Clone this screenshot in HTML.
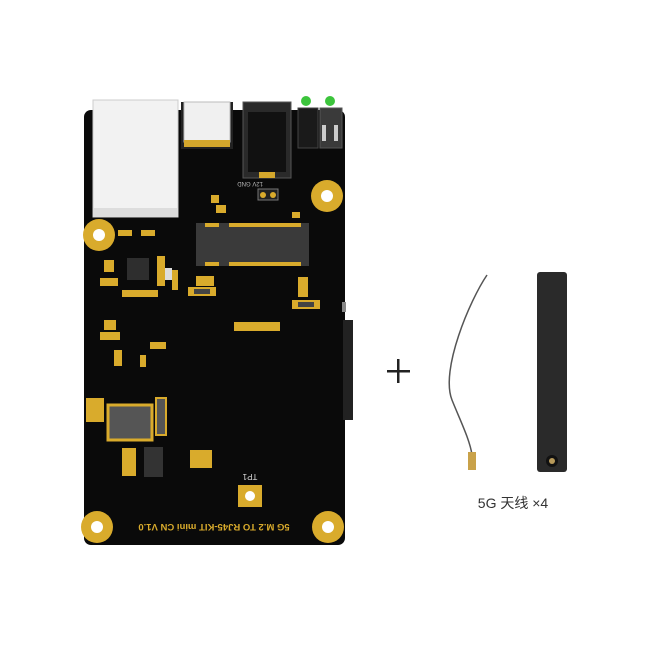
<!DOCTYPE html>
<html><head><meta charset="utf-8"><style>
html,body{margin:0;padding:0;background:#fff;}
svg{display:block}
</style></head><body>
<svg width="650" height="650" viewBox="0 0 650 650" xmlns="http://www.w3.org/2000/svg">
<rect width="650" height="650" fill="#fff"/>
<!-- board -->
<rect x="84" y="110" width="261" height="435" rx="7" fill="#0a0a0a"/>
<!-- side parts -->
<rect x="343" y="320" width="10" height="100" fill="#222"/>
<rect x="342" y="302" width="4" height="10" fill="#888"/>
<!-- ethernet -->
<rect x="93" y="100" width="85" height="117" fill="#f2f2f2" stroke="#ccc"/>
<rect x="93" y="208" width="85" height="9" fill="#ddd"/>
<!-- usb-c -->
<rect x="181" y="102" width="52" height="47" fill="#222"/>
<rect x="184" y="102" width="46" height="40" fill="#f0f0f0" stroke="#bbb"/>
<rect x="184" y="140" width="46" height="7" fill="#d4a72c"/>
<!-- dc jack -->
<rect x="243" y="102" width="48" height="76" fill="#2a2a2a" stroke="#555"/>
<rect x="248" y="112" width="38" height="60" fill="#111"/>
<rect x="259" y="172" width="16" height="6" fill="#d4a72c"/>
<!-- leds -->
<rect x="298" y="108" width="20" height="40" fill="#1a1a1a" stroke="#444"/>
<rect x="320" y="108" width="22" height="40" fill="#3a3a3a" stroke="#555"/>
<circle cx="306" cy="101" r="5" fill="#3cc43c"/>
<circle cx="330" cy="101" r="5" fill="#3cc43c"/>
<rect x="322" y="125" width="4" height="16" fill="#ccc"/><rect x="334" y="125" width="4" height="16" fill="#ccc"/>
<!-- holes -->
<g fill="#d9ab2c"><circle cx="99" cy="235" r="16"/><circle cx="327" cy="196" r="16"/><circle cx="97" cy="527" r="16"/><circle cx="328" cy="527" r="16"/></g>
<g fill="#fff"><circle cx="99" cy="235" r="6"/><circle cx="327" cy="196" r="6"/><circle cx="97" cy="527" r="6"/><circle cx="328" cy="527" r="6"/></g>
<!-- m.2 -->
<rect x="196" y="223" width="113" height="43" fill="#3a3a3a"/>
<g fill="#d9ab2c"><rect x="205" y="223" width="14" height="4"/><rect x="229" y="223" width="72" height="4"/><rect x="205" y="262" width="14" height="4"/><rect x="229" y="262" width="72" height="4"/></g>
<!-- 12V GND pads -->
<rect x="258" y="189" width="20" height="11" fill="#222" stroke="#777"/>
<circle cx="263" cy="195" r="3" fill="#d9ab2c"/><circle cx="273" cy="195" r="3" fill="#d9ab2c"/>
<text x="263" y="186" font-family="Liberation Sans" font-size="6" fill="#bbb" transform="rotate(180 263 184)">12V GND</text>
<!-- chips -->
<rect x="127" y="258" width="22" height="22" fill="#2e2e2e"/>
<rect x="163" y="268" width="9" height="12" fill="#ddd"/>
<rect x="188" y="287" width="28" height="9" fill="#d9ab2c"/><rect x="194" y="289" width="16" height="5" fill="#444"/>
<rect x="292" y="300" width="28" height="9" fill="#d9ab2c"/><rect x="298" y="302" width="16" height="5" fill="#444"/>
<rect x="234" y="322" width="46" height="9" fill="#d9ab2c"/>
<rect x="108" y="405" width="44" height="35" fill="#555" stroke="#d9ab2c" stroke-width="3"/>
<rect x="156" y="398" width="10" height="37" fill="#555" stroke="#d9ab2c" stroke-width="2"/>
<rect x="144" y="447" width="19" height="30" fill="#333"/>
<g fill="#d9ab2c">
<rect x="118" y="230" width="14" height="6"/><rect x="141" y="230" width="14" height="6"/>
<rect x="104" y="260" width="10" height="12"/><rect x="100" y="278" width="18" height="8"/><rect x="122" y="290" width="36" height="7"/>
<rect x="157" y="256" width="8" height="30"/><rect x="172" y="270" width="6" height="20"/>
<rect x="196" y="276" width="18" height="10"/><rect x="298" y="277" width="10" height="20"/>
<rect x="104" y="320" width="12" height="10"/><rect x="100" y="332" width="20" height="8"/>
<rect x="150" y="342" width="16" height="7"/><rect x="114" y="350" width="8" height="16"/><rect x="140" y="355" width="6" height="12"/>
<rect x="86" y="398" width="18" height="24"/>
<rect x="122" y="448" width="14" height="28"/><rect x="190" y="450" width="22" height="18"/>
<rect x="211" y="195" width="8" height="8"/><rect x="216" y="205" width="10" height="8"/><rect x="292" y="212" width="8" height="6"/>
</g>
<!-- TP1 -->
<rect x="238" y="485" width="24" height="22" fill="#d9ab2c"/><circle cx="250" cy="496" r="5" fill="#fff"/>
<text x="250" y="480" font-family="Liberation Sans" font-size="8" fill="#ddd" text-anchor="middle" transform="rotate(180 250 477)">TP1</text>
<text x="214" y="530" font-family="Liberation Sans" font-size="9.5" font-weight="bold" fill="#d9ab2c" text-anchor="middle" transform="rotate(180 214 527)">5G M.2 TO RJ45-KIT mini CN V1.0</text>
<!-- plus -->
<rect x="387" y="370" width="23" height="2.5" fill="#222"/><rect x="397" y="359" width="2.5" height="24" fill="#222"/>
<!-- cable -->
<path d="M487 275 C470 300 440 370 452 400 C460 420 470 440 472 455" stroke="#555" stroke-width="1.5" fill="none"/>
<rect x="468" y="452" width="8" height="18" fill="#c9a24a"/>
<!-- antenna -->
<rect x="537" y="272" width="30" height="200" rx="3" fill="#2a2a2a"/>
<circle cx="552" cy="461" r="6" fill="#111"/><circle cx="552" cy="461" r="3" fill="#b89a5a"/>
<text x="513" y="508" font-family="Liberation Sans, 'Noto Sans CJK SC', sans-serif" font-size="14" fill="#333" text-anchor="middle">5G 天线 ×4</text>
</svg>
</body></html>
